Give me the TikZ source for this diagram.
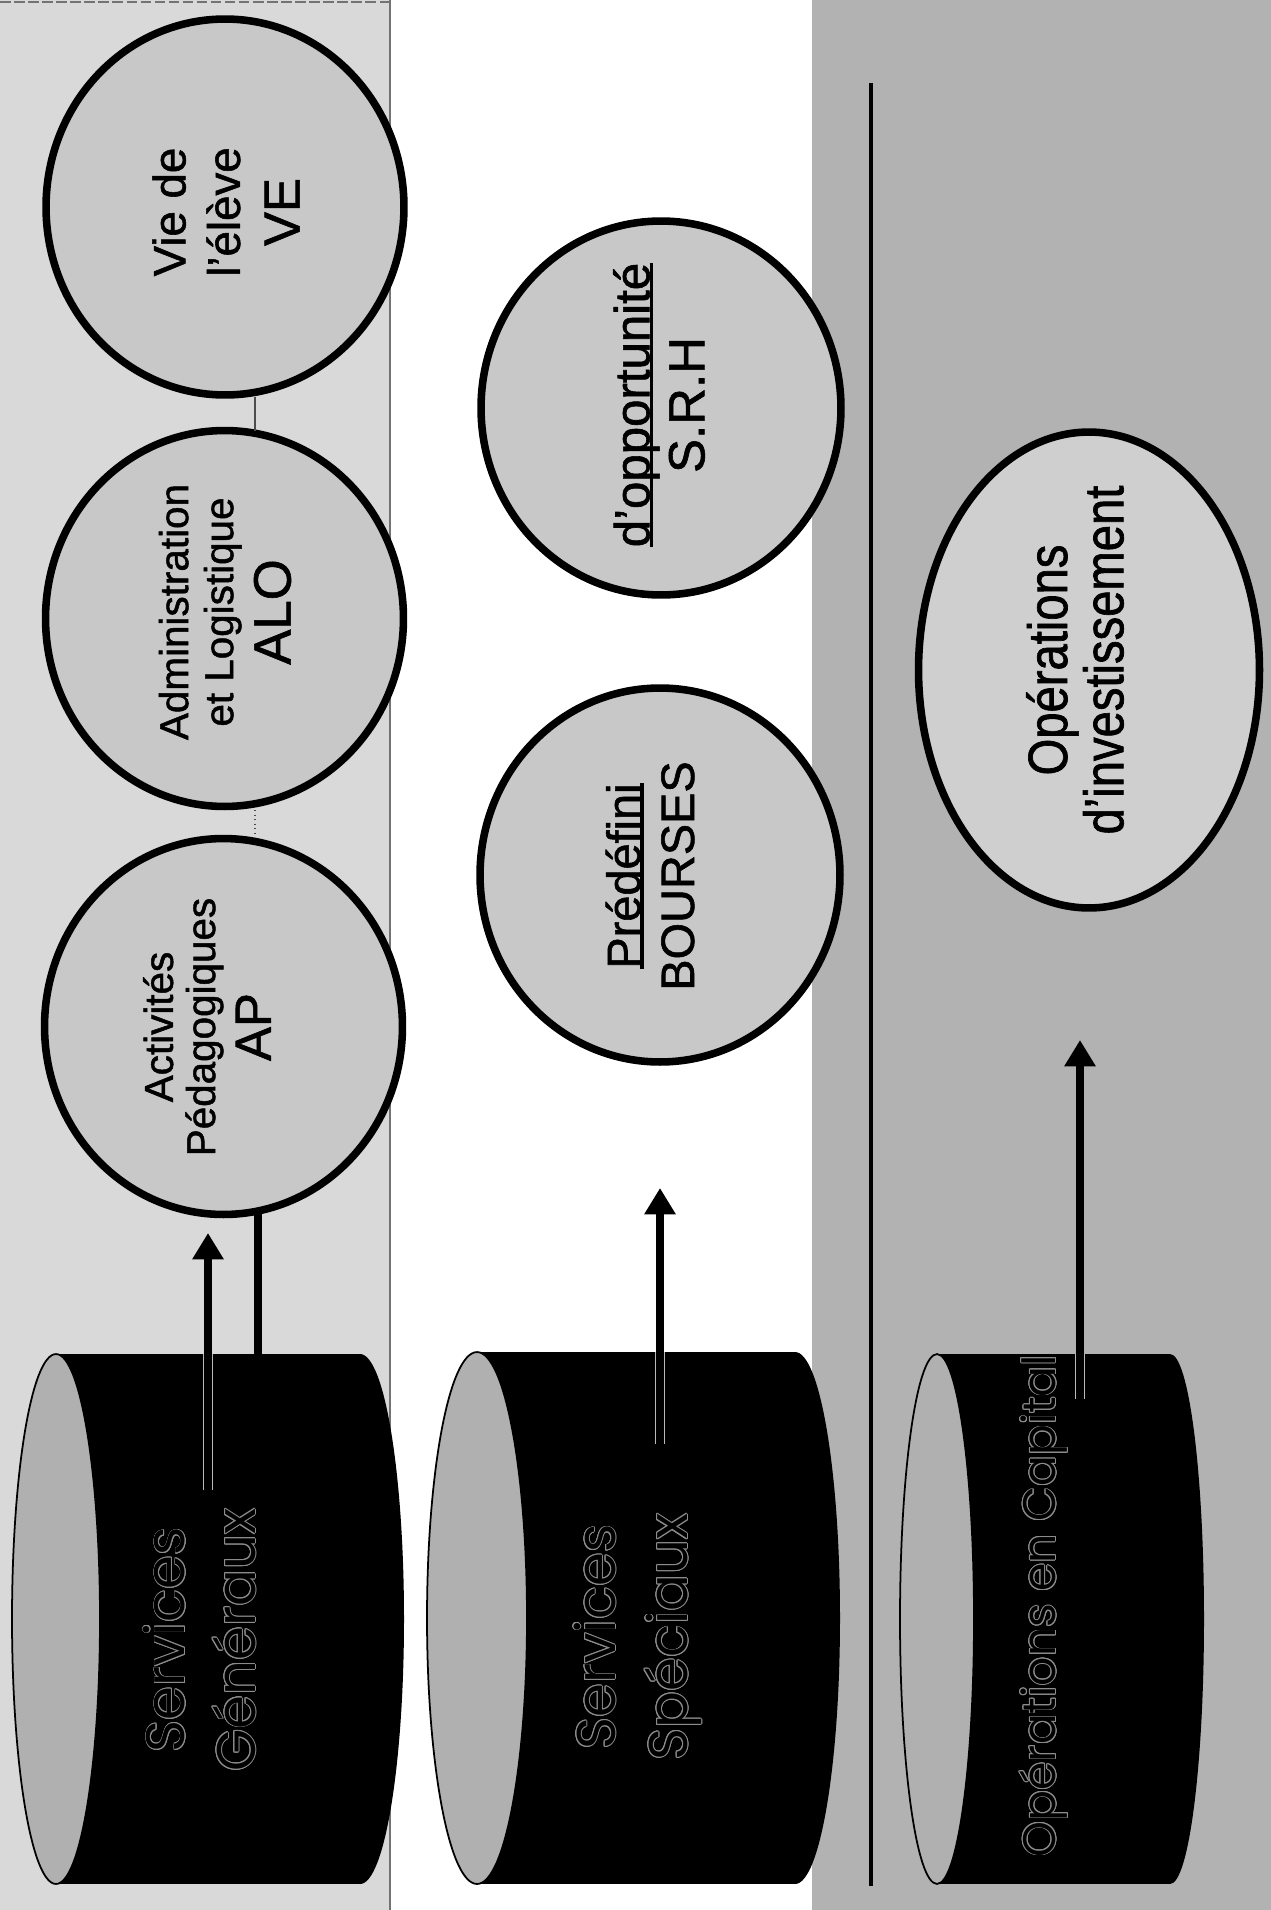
\documentclass[tikz,border=0pt]{standalone}
\usepackage{fontspec}
\setmainfont[FakeBold=1.2]{Liberation Sans}
\newfontfamily\cylfont{Poppins}
\newfontfamily\narrowfont[FakeStretch=0.85,FakeBold=1.2]{Liberation Sans}
\usepackage{contour}
\contourlength{0.45pt}
\usetikzlibrary{shapes.geometric,arrows.meta}
\definecolor{bgone}{HTML}{D9D9D9}
\definecolor{bgthree}{HTML}{B2B2B2}
\definecolor{circfill}{HTML}{C8C8C8}
\definecolor{opsfill}{HTML}{CFCFCF}
\definecolor{cylfacecol}{HTML}{B0B0B0}
\newsavebox\ulbox
\newcommand\myul[1]{\sbox\ulbox{#1}\rlap{\rule[-2pt]{\wd\ulbox}{1.8pt}}\usebox\ulbox}
\tikzset{
  circ/.style={ellipse, draw=black, line width=4.3pt, fill=circfill, inner sep=0pt},
  bandcirc/.style={circ, minimum width=7.16cm, minimum height=7.52cm},
  midcirc/.style={circ, minimum width=7.2cm, minimum height=7.48cm},
  lbl/.style={rotate=90, align=center, inner sep=0pt, text=black},
  cyllbl/.style={rotate=90, align=center, inner sep=0pt, text=black},
  facestyle/.style={ellipse, draw=black, line width=1pt, fill=cylfacecol, inner sep=0pt},
  flow/.style={line width=4.6pt, -{Triangle[width=17pt,length=15pt]}},
  glow/.style={line width=6pt, draw=gray!55},
  plainlink/.style={line width=4.6pt},
  thinlink/.style={line width=0.6pt, draw=black!70},
  frameline/.style={line width=0.8pt, draw=black!55},
}
\begin{document}
\begin{tikzpicture}[x=0.02cm, y=-0.02cm]
\useasboundingbox (0,0) rectangle (1271,1910);
% bands
\fill[bgone] (0,0) rectangle (390,1910);
\fill[white] (390,0) rectangle (812,1910);
\fill[bgthree] (812,0) rectangle (1271,1910);
\draw[frameline] (390,0) -- (390,1910);
\draw[frameline, dash pattern=on 6pt off 2pt] (0,2) -- (390,2);
\draw[line width=2pt] (871,83) -- (871,1886);

% cylinders
\fill[black] (56,1354) rectangle (360,1884);
\fill[black] (360,1619) ellipse [x radius=44, y radius=265];
\node[facestyle, minimum width=1.76cm, minimum height=10.6cm] (c1face) at (56,1619) {};
\fill[black] (477,1352) rectangle (795,1884);
\fill[black] (795,1618) ellipse [x radius=45, y radius=266];
\node[facestyle, minimum width=2cm, minimum height=10.64cm] (c2face) at (477,1618) {};
\fill[black] (937,1354) rectangle (1170,1884);
\fill[black] (1170,1619) ellipse [x radius=34, y radius=265];
\node[facestyle, minimum width=1.48cm, minimum height=10.6cm] (c3face) at (937,1619) {};

\node[cyllbl, font=\cylfont\fontsize{31}{40}\selectfont] (c1t) at (200,1640)
  {\contour{black!45}{Services}\\\contour{black!45}{Généraux}};
\node[cyllbl, font=\cylfont\fontsize{31}{41}\selectfont] (c2t) at (638,1637)
  {\contour{black!45}{Services}\\\contour{black!45}{Spéciaux}};
\node[cyllbl, font=\cylfont\fontsize{26}{30}\selectfont] (c3t) at (1044,1606)
  {\contour{black!45}{Opérations en Capital}};

% circles
\node[bandcirc] (ve) at (225,207) {};
\node[bandcirc] (alo) at (224.5,618.5) {};
\node[bandcirc] (ap) at (223.5,1026.5) {};
\node[midcirc] (srh) at (661,408) {};
\node[midcirc] (bourses) at (660,875) {};
\node[circ, fill=opsfill, minimum width=6.82cm, minimum height=9.52cm] (ops) at (1089,670) {};

\node[lbl, font=\fontsize{26}{31}\selectfont] (vet) at (226,212)
  {Vie de\\l’élève\\[3pt]{\fontsize{29}{34}\selectfont VE}};
\node[lbl, font=\fontsize{23}{25.6}\selectfont] (alot) at (225,612)
  {Administration\\et Logistique\\[6pt]{\fontsize{30}{34}\selectfont ALO}};
\node[lbl, font=\fontsize{23}{24}\selectfont] (apt) at (207,1027)
  {Activités\\Pédagogiques\\[6pt]{\fontsize{29}{34}\selectfont AP}};
\node[lbl, font=\fontsize{28}{31.3}\selectfont] (srht) at (659,405)
  {\myul{d’opportunité}\\{\fontsize{29}{33}\selectfont S.R.H}};
\node[lbl, font=\fontsize{26.7}{30.7}\selectfont] (bourst) at (650,876)
  {\myul{Prédéfini}\\BOURSES};
\node[lbl, font=\narrowfont\fontsize{31.6}{32}\selectfont] (opst) at (1075,660)
  {Opérations\\d’investissement};

% thin links between circles
\coordinate (vel) at (255,397);
\coordinate (alou) at (255,431);
\draw[thinlink] (vel) -- (alou);
\coordinate (alol) at (255,810);
\coordinate (apu) at (255,837);
\draw[thinlink, dotted] (alol) -- (apu);

% arrows and connectors
\coordinate (a1s) at (208,1490);
\coordinate (a1top) at (208,1354);
\coordinate (a1e) at (208,1233);
\draw[glow] (a1s) -- (a1top);
\draw[flow] (a1s) -- (a1e);
\coordinate (l1a) at (258,1211);
\coordinate (l1b) at (258,1354);
\draw[plainlink] (l1a) -- (l1b);

\coordinate (a2s) at (660,1444);
\coordinate (a2top) at (660,1352);
\coordinate (a2e) at (660,1188);
\draw[glow] (a2s) -- (a2top);
\draw[flow] (a2s) -- (a2e);

\coordinate (a3s) at (1080,1399);
\coordinate (a3top) at (1080,1354);
\coordinate (a3e) at (1080,1040);
\draw[glow] (a3s) -- (a3top);
\draw[flow] (a3s) -- (a3e);
\end{tikzpicture}
\end{document}
